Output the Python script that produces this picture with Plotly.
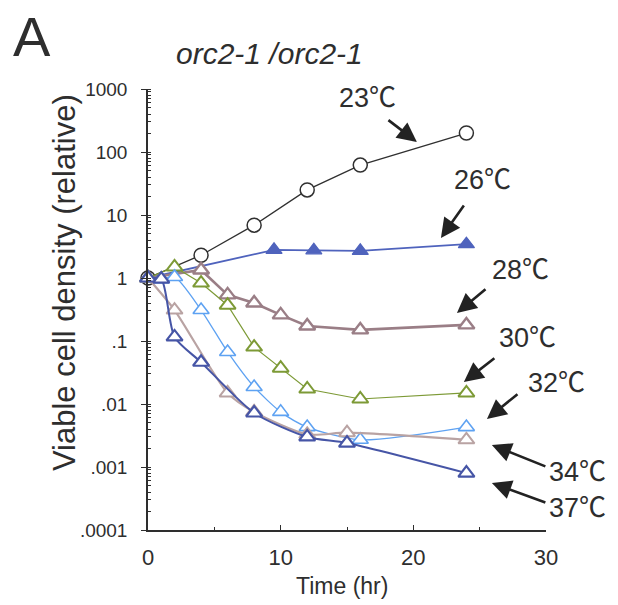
import plotly.graph_objects as go

# Viable cell density of orc2-1/orc2-1 cultures shifted to different temperatures
t23 = [0, 4, 8, 12, 16, 24]
v23 = [1, 2.3, 6.9, 25, 62, 200]

t26 = [0, 9.5, 12.5, 16, 24]
v26 = [1, 2.8, 2.75, 2.7, 3.45]

t28 = [0, 4, 6, 8, 10, 12, 16, 24]
v28 = [1, 1.34, 0.54, 0.40, 0.26, 0.173, 0.15, 0.18]

t30 = [0, 2, 4, 6, 8, 10, 12, 16, 24]
v30 = [1, 1.5, 0.83, 0.37, 0.080, 0.037, 0.0173, 0.012, 0.015]

t32 = [0, 1, 2, 4, 6, 8, 10, 12, 16, 24]
v32 = [1, 0.96, 1.04, 0.31, 0.067, 0.0186, 0.0075, 0.0043, 0.0027, 0.0043]

t34 = [0, 2, 6, 8, 12, 15, 24]
v34 = [1, 0.31, 0.015, 0.0075, 0.0033, 0.0035, 0.0027]

t37 = [0, 1, 2, 4, 8, 12, 15, 24]
v37 = [1, 0.96, 0.116, 0.046, 0.0072, 0.003, 0.0024, 0.0008]

y_tickvals = [1e-4, 1e-3, 1e-2, 1e-1, 1, 10, 100, 1000]
y_ticktext = [".0001", ".001", ".01", ".1", "1", "10", "100", "1000"]
x_tickvals = [0, 10, 20, 30]

FONT = "Liberation Sans, Arial, Noto Sans CJK JP, sans-serif"
INK = "#2e2e2e"

fig = go.Figure()


def add_series(t, v, color, lw, symbol, msize, mlw, fill="white", shape="linear"):
    fig.add_trace(go.Scatter(
        x=t, y=v, mode="lines+markers",
        line=dict(color=color, width=lw, shape=shape, smoothing=0.7),
        marker=dict(symbol=symbol, size=msize, color=fill,
                    line=dict(color=color, width=mlw)),
        showlegend=False, cliponaxis=False,
    ))


add_series(t23, v23, "#303030", 1.3, "circle", 14, 1.5)
add_series(t26, v26, "#4f63bd", 1.8, "triangle-up", 14, 1.2, fill="#4f63bd")
add_series(t28, v28, "#9a7e86", 2.6, "triangle-up", 14, 2.4)
add_series(t30, v30, "#7d9a36", 1.2, "triangle-up", 14, 2.0)
add_series(t32, v32, "#5ea2f2", 1.3, "triangle-up", 14, 1.6, shape="spline")
add_series(t34, v34, "#b9a3a3", 2.2, "triangle-up", 14, 2.0, shape="spline")
add_series(t37, v37, "#4655a6", 2.0, "triangle-up", 14, 2.2, shape="spline")

# Pointer arrows: head position (data), tail offset (px)
arrows = [
    (20.27, 2.159, -30, -23),
    (22.08, 0.635, 24, -34),
    (23.29, -0.556, 30, -25),
    (23.81, -1.651, 32, -25),
    (25.55, -2.238, 32, -26),
    (25.92, -2.651, 55, 22),
    (25.92, -3.254, 55, 20),
]
# Temperature labels (paper coordinates)
labels = [
    ("23℃", 0.5503, 0.9796),
    ("26℃", 0.8417, 0.7937),
    ("28℃", 0.9347, 0.5896),
    ("30℃", 0.9523, 0.4354),
    ("32℃", 1.0276, 0.3333),
    ("34℃", 1.0804, 0.1315),
    ("37℃", 1.0804, 0.0499),
]
for hx, hy, ax, ay in arrows:
    fig.add_annotation(x=hx, y=hy, xref="x", yref="y", text="", showarrow=True,
                       ax=ax, ay=ay, arrowhead=2, arrowsize=1.5, arrowwidth=2.6,
                       arrowcolor="#222222", standoff=0, startstandoff=0)
for txt, lx, ly in labels:
    fig.add_annotation(x=lx, y=ly, xref="paper", yref="paper", text=txt,
                       showarrow=False, xanchor="center", yanchor="middle",
                       font=dict(family=FONT, size=27, color=INK))

# Panel letter, title and axis titles
fig.add_annotation(x=-0.291, y=1.118, xref="paper", yref="paper", text="A",
                   showarrow=False, xanchor="center", yanchor="middle",
                   font=dict(family=FONT, size=56, color=INK))
fig.add_annotation(x=0.3065, y=1.0816, xref="paper", yref="paper",
                   text="<i>orc2-1 /orc2-1</i>", showarrow=False,
                   xanchor="center", yanchor="middle",
                   font=dict(family=FONT, size=30, color=INK))
fig.add_annotation(x=-0.211, y=0.56, xref="paper", yref="paper",
                   text="Viable cell density (relative)", textangle=-90,
                   showarrow=False, xanchor="center", yanchor="middle",
                   font=dict(family=FONT, size=31, color=INK))
fig.add_annotation(x=0.487, y=-0.128, xref="paper", yref="paper",
                   text="Time (hr)", showarrow=False,
                   xanchor="center", yanchor="middle",
                   font=dict(family=FONT, size=23, color=INK))

fig.update_xaxes(
    range=[0, 30], tickmode="array", tickvals=x_tickvals,
    ticktext=[str(v) for v in x_tickvals],
    ticks="inside", ticklen=5, tickwidth=1.3, tickcolor=INK,
    minor=dict(dtick=5, ticks="inside", ticklen=3, tickcolor=INK, showgrid=False),
    showline=True, linecolor=INK, linewidth=1.5,
    showgrid=False, zeroline=False, ticklabelstandoff=7,
    tickfont=dict(family=FONT, size=22, color=INK),
)
fig.update_yaxes(
    type="log", range=[-4, 3], tickmode="array", tickvals=y_tickvals,
    ticktext=y_ticktext,
    ticks="outside", ticklen=5, tickwidth=1.3, tickcolor=INK,
    minor=dict(dtick="D1", ticks="inside", ticklen=3, tickcolor=INK, showgrid=False),
    showline=True, linecolor=INK, linewidth=1.5,
    showgrid=False, zeroline=False, ticklabelstandoff=10,
    tickfont=dict(family=FONT, size=19, color=INK),
)

fig.update_layout(
    width=618, height=605,
    margin=dict(l=148, r=72, t=89, b=75),
    paper_bgcolor="white", plot_bgcolor="white",
)

fig.write_html("out.html")
